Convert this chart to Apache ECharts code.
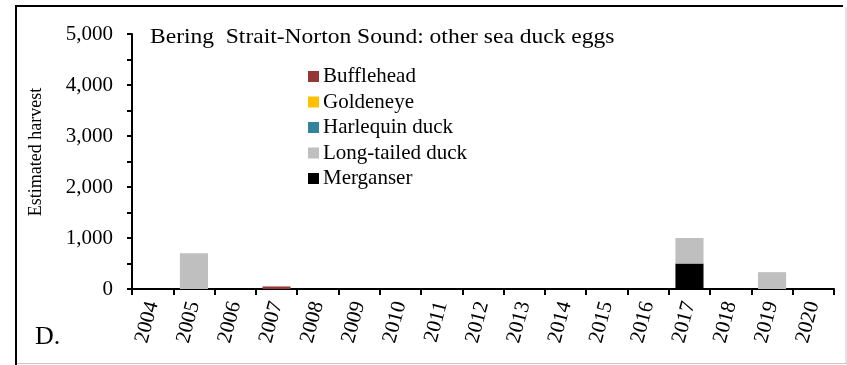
<!DOCTYPE html>
<html>
<head>
<meta charset="utf-8">
<script src="https://cdn.jsdelivr.net/npm/echarts@6/dist/echarts.min.js"></script>
<style>
html,body{margin:0;padding:0;background:#fff;}
#chart{width:847px;height:365px;}
</style>
</head>
<body>
<div id="chart"></div>
<script>
var years = ['2004','2005','2006','2007','2008','2009','2010','2011','2012','2013','2014','2015','2016','2017','2018','2019','2020'];
var bufflehead = [0,0,0,50,0,0,0,0,0,0,0,0,0,0,0,0,0];
var goldeneye  = [0,0,0,0,0,0,0,0,0,0,0,0,0,0,0,0,0];
var harlequin  = [0,0,0,0,0,0,0,0,0,0,0,0,0,0,0,0,0];
var longTailed = [0,700,0,0,0,0,0,0,0,0,0,0,0,500,0,330,0];
var merganser  = [0,0,0,0,0,0,0,0,0,0,0,0,0,500,0,0,0];
var yTicks = [0,1000,2000,3000,4000,5000];
var titleText = 'Bering  Strait-Norton Sound: other sea duck eggs';
var yName = 'Estimated harvest';
var panelLabel = 'D.';

var FONT = '"Liberation Serif","Times New Roman",serif';
var chart = echarts.init(document.getElementById('chart'), null, {renderer:'canvas'});

function mk(name, data, color){
  return {name:name, type:'bar', stack:'s', data:data, barWidth:'68%',
    itemStyle:{color:color}, emphasis:{disabled:true}, animation:false};
}

chart.setOption({
  animation:false,
  backgroundColor:'#fff',
  grid:{left:132, right:13, top:34, bottom:76, containLabel:false},
  legend:{
    orient:'vertical', left:303, top:61,
    itemWidth:11, itemHeight:11, itemGap:4.5, icon:'rect',
    selectedMode:false,
    textStyle:{fontFamily:FONT, fontSize:21, color:'#000', lineHeight:20, padding:[0,0,0,-1]},
    data:['Bufflehead','Goldeneye','Harlequin duck','Long-tailed duck','Merganser']
  },
  xAxis:{
    type:'category', data:years, boundaryGap:true,
    axisLine:{lineStyle:{color:'#000', width:2}},
    axisTick:{show:true, length:6, lineStyle:{color:'#000', width:2}},
    axisLabel:{rotate:75, fontFamily:FONT, fontSize:21, color:'#000', margin:13, interval:0},
    splitLine:{show:false}
  },
  yAxis:{
    type:'value', min:yTicks[0], max:yTicks[yTicks.length-1], interval:1000,
    axisLine:{show:true, lineStyle:{color:'#000', width:2}},
    axisTick:{show:true, inside:false, length:5, lineStyle:{color:'#000', width:2}},
    minorTick:{show:true, splitNumber:2, length:5, lineStyle:{color:'#000', width:2}},
    axisLabel:{fontFamily:FONT, fontSize:21, color:'#000', margin:19,
      formatter:function(v){return v.toLocaleString('en-US');}},
    splitLine:{show:false}
  },
  graphic:[
    {type:'line', shape:{x1:16, y1:5, x2:16, y2:365}, style:{stroke:'#000', lineWidth:2}, z:100},
    {type:'line', shape:{x1:15, y1:6, x2:843, y2:6}, style:{stroke:'#000', lineWidth:2}, z:100},
    {type:'line', shape:{x1:846, y1:7, x2:846, y2:364}, style:{stroke:'#c8c8c8', lineWidth:1}, z:100},
    {type:'line', shape:{x1:17, y1:363.5, x2:847, y2:363.5}, style:{stroke:'#c8c8c8', lineWidth:1}, z:100},
    {type:'text', x:150, y:37, scaleX:1.12, style:{text:titleText, font:'21px ' + FONT, fill:'#000', textAlign:'left', textVerticalAlign:'middle'}},
    {type:'text', x:36, y:152, rotation:Math.PI/2, style:{text:yName, font:'18px ' + FONT, fill:'#000', textAlign:'center', textVerticalAlign:'middle'}},
    {type:'text', x:35, y:337, style:{text:panelLabel, font:'26px ' + FONT, fill:'#000', textAlign:'left', textVerticalAlign:'middle'}}
  ],
  series:[
    mk('Merganser', merganser, '#000000'),
    mk('Long-tailed duck', longTailed, '#bfbfbf'),
    mk('Harlequin duck', harlequin, '#31849b'),
    mk('Goldeneye', goldeneye, '#ffc000'),
    mk('Bufflehead', bufflehead, '#953735')
  ]
});
</script>
</body>
</html>
